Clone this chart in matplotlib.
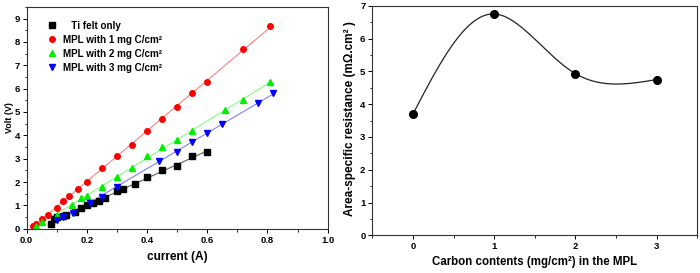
import numpy as np
import matplotlib
matplotlib.use("Agg")
import matplotlib.pyplot as plt
from matplotlib.ticker import MultipleLocator

plt.rcParams["font.family"] = ["Liberation Sans", "DejaVu Sans"]
plt.rcParams["font.weight"] = "bold"

# left panel: V-I data
ti_i = [0.08, 0.09, 0.10, 0.12, 0.13, 0.16, 0.18, 0.20, 0.22, 0.24, 0.26, 0.30, 0.32, 0.36, 0.40, 0.45, 0.50, 0.55, 0.60]
ti_v = [0.2, 0.4, 0.5, 0.55, 0.6, 0.7, 0.9, 1.0, 1.1, 1.2, 1.3, 1.6, 1.7, 1.9, 2.2, 2.5, 2.7, 3.1, 3.3]

mpl1_i = [0.02, 0.03, 0.05, 0.07, 0.10, 0.12, 0.14, 0.17, 0.20, 0.25, 0.30, 0.35, 0.40, 0.45, 0.50, 0.55, 0.60, 0.72, 0.81]
mpl1_v = [0.1, 0.2, 0.4, 0.6, 0.9, 1.2, 1.4, 1.7, 2.0, 2.6, 3.1, 3.6, 4.2, 4.7, 5.2, 5.8, 6.3, 7.7, 8.7]

mpl2_i = [0.03, 0.05, 0.10, 0.15, 0.18, 0.20, 0.25, 0.30, 0.35, 0.40, 0.45, 0.50, 0.55, 0.66, 0.72, 0.81]
mpl2_v = [0.1, 0.3, 0.6, 1.0, 1.3, 1.4, 1.8, 2.2, 2.6, 3.1, 3.5, 3.8, 4.2, 5.1, 5.5, 6.3]

mpl3_i = [0.10, 0.12, 0.155, 0.21, 0.25, 0.30, 0.44, 0.50, 0.55, 0.60, 0.65, 0.77, 0.82]
mpl3_v = [0.37, 0.49, 0.66, 1.1, 1.38, 1.78, 2.9, 3.3, 3.7, 4.1, 4.5, 5.4, 5.8]

# right panel: area-specific resistance
carbon = [0, 1, 2, 3]
asr = [3.7, 6.75, 4.93, 4.75]


def natural_spline(t, y, tt):
    t = np.asarray(t, float)
    y = np.asarray(y, float)
    n = len(t)
    h = np.diff(t)
    A = np.zeros((n, n))
    b = np.zeros(n)
    A[0, 0] = A[-1, -1] = 1
    for i in range(1, n - 1):
        A[i, i - 1] = h[i - 1]
        A[i, i] = 2 * (h[i - 1] + h[i])
        A[i, i + 1] = h[i]
        b[i] = 6 * ((y[i + 1] - y[i]) / h[i] - (y[i] - y[i - 1]) / h[i - 1])
    M = np.linalg.solve(A, b)
    out = np.empty_like(tt)
    for k, v in enumerate(tt):
        i = min(max(np.searchsorted(t, v) - 1, 0), n - 2)
        a, c = t[i + 1] - v, v - t[i]
        out[k] = (M[i] * a**3 + M[i + 1] * c**3) / (6 * h[i]) \
            + (y[i] / h[i] - M[i] * h[i] / 6) * a + (y[i + 1] / h[i] - M[i + 1] * h[i] / 6) * c
    return out


fig = plt.figure(figsize=(7, 2.73), dpi=100)
ax1 = fig.add_axes([0.038, 0.162, 0.430, 0.813])
ax2 = fig.add_axes([0.532, 0.138, 0.464, 0.841])

series = [
    (ti_i, ti_v, "s", "black", "#606060", "   Ti felt only"),
    (mpl1_i, mpl1_v, "o", "red", "#ff8080", "MPL with 1 mg C/cm²"),
    (mpl2_i, mpl2_v, "^", "#00ee00", "#80ff80", "MPL with 2 mg C/cm²"),
    (mpl3_i, mpl3_v, "v", "blue", "#8080ff", "MPL with 3 mg C/cm²"),
]
for x, y, m, c, lc, lab in series:
    # linear fit line through each series
    k, b0 = np.polyfit(x, y, 1)
    xf = np.array([min(x), max(x)])
    ax1.plot(xf, k * xf + b0, color=lc, lw=0.8, zorder=1)
    ax1.plot(x, y, m, color=c, ms=4.0, ls="none", label=lab, zorder=2)

ax1.set_xlim(0, 1.0)
ax1.set_ylim(0, 9.5)
ax1.xaxis.set_major_locator(MultipleLocator(0.2))
ax1.xaxis.set_minor_locator(MultipleLocator(0.1))
ax1.yaxis.set_major_locator(MultipleLocator(1))
ax1.yaxis.set_minor_locator(MultipleLocator(0.5))
ax1.set_xlabel("current (A)", fontsize=8.6, fontweight="bold", va="center")
ax1.xaxis.set_label_coords(0.5, -0.127)
ax1.set_ylabel("Volt (V)", fontsize=6.4, fontweight="bold", va="center")
ax1.yaxis.set_label_coords(-0.056, 0.5)
ax1.legend(loc="upper left", frameon=False, fontsize=7.1, handletextpad=0.6,
           handlelength=1.0, labelspacing=0.4, borderaxespad=0.0,
           bbox_to_anchor=(0.055, 0.955))

# smooth connecting curve (parametric spline, centripetal knots in display units)
sx, sy = 81.0, 32.8
px = np.array(carbon) * sx
py = np.array(asr) * sy
t = np.concatenate([[0], np.cumsum(np.sqrt(np.hypot(np.diff(px), np.diff(py))))])
tt = np.linspace(0, t[-1], 400)
ax2.plot(natural_spline(t, px, tt) / sx, natural_spline(t, py, tt) / sy,
         color="#222222", lw=0.9, zorder=1)
ax2.plot(carbon, asr, "o", color="black", ms=5.5, zorder=2)

ax2.set_xlim(-0.5, 3.5)
ax2.set_ylim(0, 7)
ax2.set_xticks(carbon)
ax2.xaxis.set_minor_locator(MultipleLocator(0.5))
ax2.yaxis.set_major_locator(MultipleLocator(1))
ax2.yaxis.set_minor_locator(MultipleLocator(0.5))
ax2.set_xlabel("Carbon contents (mg/cm²) in the MPL", fontsize=8.3, fontweight="bold", va="center")
ax2.xaxis.set_label_coords(0.5, -0.116)
ax2.set_ylabel("Area-specific resistance (m\u03a9.cm² )", fontsize=8.5, fontweight="bold", va="center")
ax2.yaxis.set_label_coords(-0.069, 0.51)

for ax in (ax1, ax2):
    for s in ax.spines.values():
        s.set_linewidth(0.8)
        s.set_color("#333333")
    ax.tick_params(which="major", direction="out", length=3, width=0.7, labelsize=6.8, pad=2)
    ax.tick_params(which="minor", direction="out", length=1.8, width=0.6)
    for lb in ax.get_xticklabels() + ax.get_yticklabels():
        lb.set_fontweight("bold")

fig.savefig("out.png", dpi=100)
